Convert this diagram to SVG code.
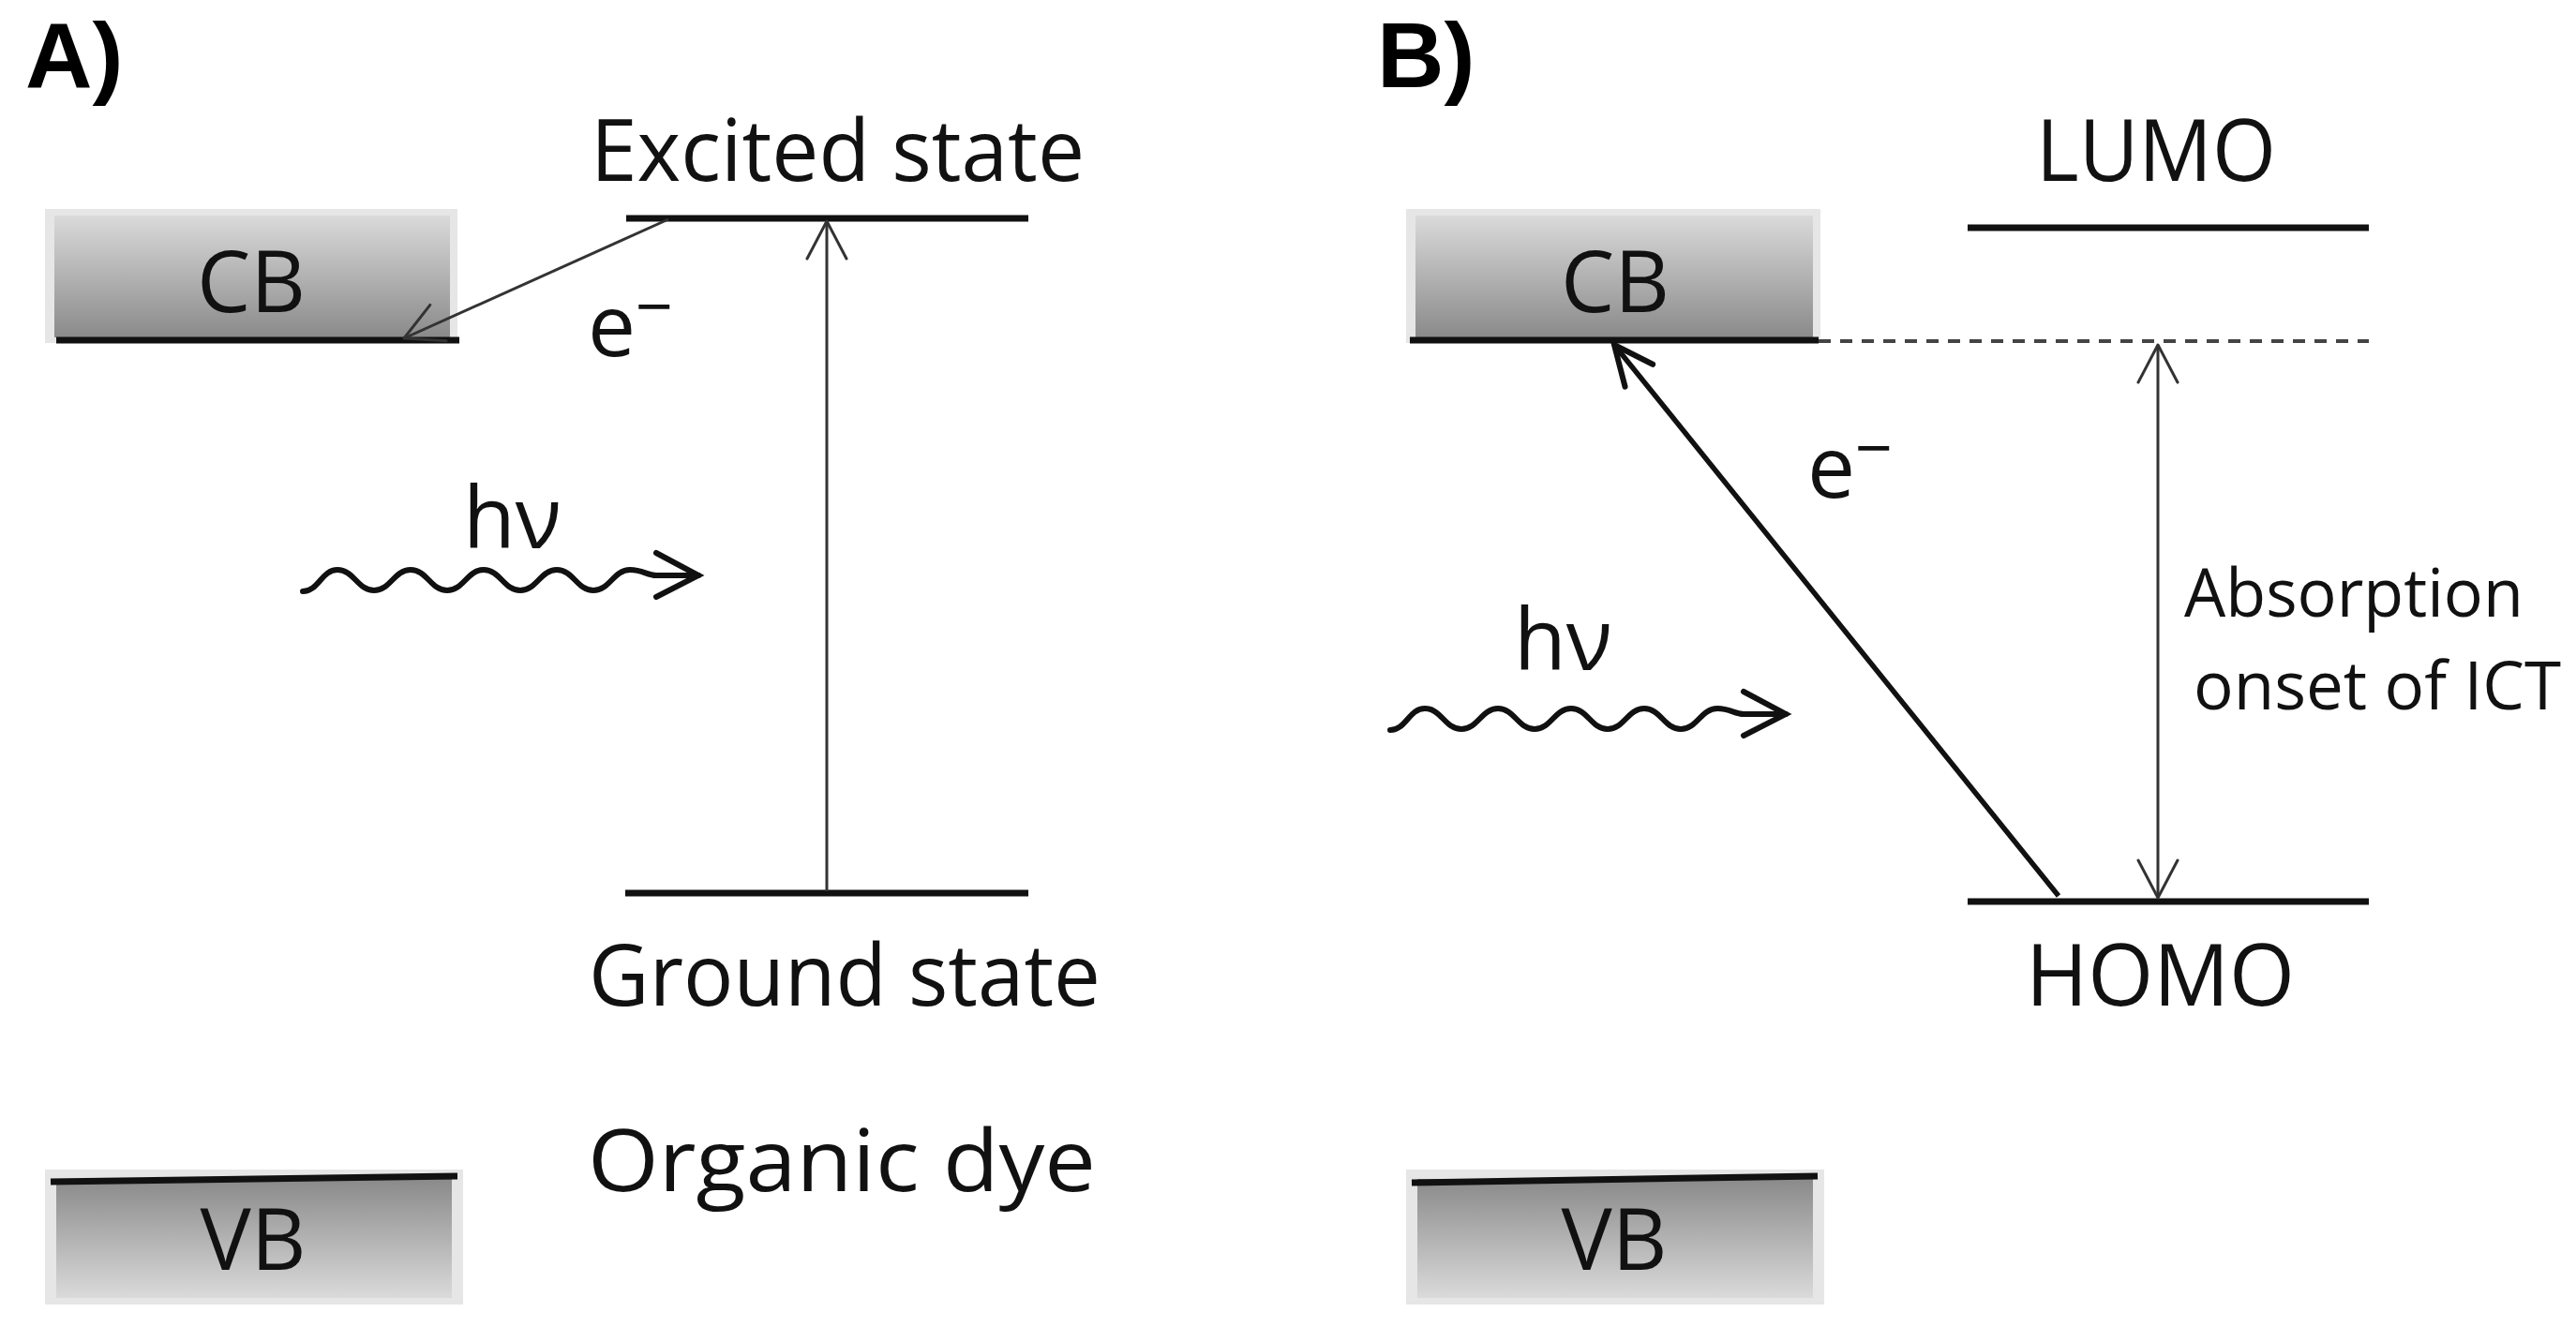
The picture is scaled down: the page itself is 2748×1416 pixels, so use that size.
<svg xmlns="http://www.w3.org/2000/svg" width="2748" height="1416" viewBox="0 0 2748 1416">
<defs>
<linearGradient id="gCB" x1="0" y1="0" x2="0" y2="1">
<stop offset="0" stop-color="#dadada"/>
<stop offset="1" stop-color="#8a8a8a"/>
</linearGradient>
<linearGradient id="gVB" x1="0" y1="0" x2="0" y2="1">
<stop offset="0" stop-color="#8a8a8a"/>
<stop offset="1" stop-color="#dadada"/>
</linearGradient>
<marker id="thin" viewBox="-50 -30 60 60" refX="0" refY="0" markerWidth="60" markerHeight="60" markerUnits="userSpaceOnUse" orient="auto-start-reverse" overflow="visible">
<path d="M-40,-21 L0,0 L-40,21" fill="none" stroke="#333" stroke-width="3" stroke-linecap="round" stroke-linejoin="round"/>
</marker>
<marker id="thick" viewBox="-50 -30 60 60" refX="0" refY="0" markerWidth="60" markerHeight="60" markerUnits="userSpaceOnUse" orient="auto" overflow="visible">
<path d="M-42,-19 L0,0 L-42,19" fill="none" stroke="#111" stroke-width="6" stroke-linecap="round" stroke-linejoin="miter"/>
</marker>
<path id="wave" d="M323,631 C340,631 343,608 360,608 C377.5,608 381.5,630 399,630 C416.5,630 420.5,608 438,608 C455.5,608 459.5,630 477,630 C494.5,630 498.5,608 516,608 C533.5,608 537.5,630 555,630 C572.5,630 576.5,608 594,608 C611.5,608 615.5,630 633,630 C650.5,630 654.5,608 672,608 C686,608 690,614 700,614 L745,614"/>
<style>
.lbl{font-family:"Open Sans","Noto Sans","Liberation Sans",sans-serif;font-size:91px;fill:#111}
.sm{font-size:72px}
.hdr{font-family:"Liberation Sans",Arial,sans-serif;font-size:99px;font-weight:bold;fill:#000}
.lvl{stroke:#111;stroke-width:7;fill:none}
.border{fill:#e6e6e6}
.thinline{stroke:#333;stroke-width:3;fill:none}
.wv{stroke:#111;stroke-width:6;fill:none;stroke-linecap:round}
</style>
</defs>
<rect width="2748" height="1416" fill="#fff"/>

<text class="hdr" x="27" y="93">A)</text>
<text class="hdr" x="1469" y="93">B)</text>

<g id="cbA">
<rect class="border" x="48" y="223" width="440" height="143"/>
<rect x="58" y="230" width="422" height="130" fill="url(#gCB)"/>
<line class="lvl" x1="60" y1="363" x2="490" y2="363"/>
<text class="lbl" x="268" y="333" text-anchor="middle">CB</text>
</g>

<g id="vbA">
<rect class="border" x="48" y="1248" width="446" height="144"/>
<rect x="60" y="1258" width="422" height="127" fill="url(#gVB)"/>
<line class="lvl" x1="54" y1="1261" x2="488" y2="1255"/>
<text class="lbl" x="270" y="1355" text-anchor="middle">VB</text>
</g>

<g id="excited">
<line class="lvl" x1="668" y1="233" x2="1097" y2="233"/>
<text class="lbl" x="630" y="193" textLength="527" lengthAdjust="spacingAndGlyphs">Excited state</text>
</g>

<g id="ground">
<line class="lvl" x1="667" y1="953" x2="1097" y2="953"/>
<text class="lbl" x="628" y="1073" textLength="546" lengthAdjust="spacingAndGlyphs">Ground state</text>
</g>

<g id="dyeLabel">
<text class="lbl" x="627" y="1271" textLength="542" lengthAdjust="spacingAndGlyphs">Organic dye</text>
</g>

<g id="photonA">
<text class="lbl" x="494" y="585">hν</text>
<use href="#wave" class="wv"/>
<path d="M700,590 L745,614 L700,637" class="wv" stroke-linejoin="miter"/>
</g>

<g id="eA">
<text class="lbl" x="627" y="380">e<tspan font-size="70" dy="-28">−</tspan></text>
</g>

<g id="cbB">
<rect class="border" x="1500" y="223" width="442" height="143"/>
<rect x="1510" y="230" width="424" height="130" fill="url(#gCB)"/>
<line class="lvl" x1="1504" y1="363" x2="1940" y2="363"/>
<text class="lbl" x="1723" y="333" text-anchor="middle">CB</text>
</g>

<g id="vbB">
<rect class="border" x="1500" y="1248" width="446" height="144"/>
<rect x="1512" y="1258" width="422" height="127" fill="url(#gVB)"/>
<line class="lvl" x1="1506" y1="1262" x2="1939" y2="1255"/>
<text class="lbl" x="1722" y="1355" text-anchor="middle">VB</text>
</g>

<g id="lumo">
<line class="lvl" x1="2099" y1="243" x2="2527" y2="243"/>
<text class="lbl" x="2172" y="193" textLength="256" lengthAdjust="spacingAndGlyphs">LUMO</text>
</g>

<g id="homo">
<line class="lvl" x1="2099" y1="962" x2="2527" y2="962"/>
<text class="lbl" x="2161" y="1073" textLength="287" lengthAdjust="spacingAndGlyphs">HOMO</text>
</g>

<g id="absLabel">
<text class="lbl sm" x="2330" y="658" textLength="362" lengthAdjust="spacingAndGlyphs">Absorption</text>
<text class="lbl sm" x="2340" y="757" textLength="392" lengthAdjust="spacingAndGlyphs">onset of ICT</text>
</g>

<g id="photonB">
<text class="lbl" x="1615" y="715">hν</text>
<g transform="translate(1160,148)">
<use href="#wave" class="wv"/>
<path d="M700,590 L745,614 L700,637" class="wv" stroke-linejoin="miter"/>
</g>
</g>

<g id="eB">
<text class="lbl" x="1928" y="531">e<tspan font-size="70" dy="-28">−</tspan></text>
</g>

<g id="connectors">
<line class="thinline" x1="713" y1="234" x2="431" y2="361" marker-end="url(#thin)"/>
<line class="thinline" x1="882" y1="951" x2="882" y2="236" marker-end="url(#thin)"/>
<line x1="1940" y1="364" x2="2527" y2="364" stroke="#444" stroke-width="4" stroke-dasharray="13 10"/>
<line x1="2196" y1="956" x2="1722" y2="368" stroke="#111" stroke-width="5.5" marker-end="url(#thick)"/>
<line class="thinline" x1="2302" y1="368" x2="2302" y2="958" marker-start="url(#thin)" marker-end="url(#thin)"/>
</g>
</svg>
